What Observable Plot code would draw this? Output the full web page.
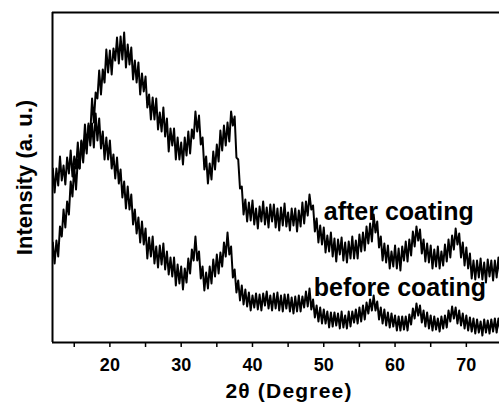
<!DOCTYPE html>
<html>
<head>
<meta charset="utf-8">
<script src="https://cdn.jsdelivr.net/npm/d3@7"></script>
<script src="https://cdn.jsdelivr.net/npm/@observablehq/plot@0.6"></script>
<style>
  html, body { margin: 0; padding: 0; background: #fff; }
  #chart svg { display: block; }
</style>
</head>
<body>
<div id="chart"></div>
<script>
// 2θ sampling grid (degrees): start and step of the scan
const thetaStart = 12;
const thetaStep = 0.25;

// Intensity (arbitrary units), "after coating"
const afterCoating = [
174,150,174,157,186,162,177,158,185,169,192,166,186,174,200,174,201,189,218,196,
217,209,244,220,250,244,272,248,273,260,293,270,292,268,294,282,305,279,306,283,
310,275,298,278,295,263,282,260,280,248,269,251,266,235,248,223,245,223,244,213,
230,211,235,206,224,191,214,197,214,183,205,183,200,178,205,187,211,189,213,204,
231,211,227,198,205,173,186,159,179,163,191,173,198,181,212,192,217,197,220,201,
231,217,226,185,183,154,156,128,143,121,140,122,142,118,134,114,136,121,141,118,
135,115,138,121,138,115,134,112,135,117,139,116,130,112,134,117,134,111,132,116,
140,119,141,127,148,133,137,111,124,100,117,98,115,90,107,91,110,86,104,81,
103,88,105,82,100,80,101,84,106,84,102,84,108,91,110,92,116,99,119,101,
128,110,121,95,106,82,99,80,97,74,91,76,97,74,94,72,96,82,101,81,
103,87,111,96,116,102,113,89,103,81,99,80,97,74,93,76,96,74,91,77,
98,81,103,85,107,93,114,98,109,85,100,77,95,74,89,64,82,63,82,65,
84,63,80,60,83,66,82,62,82,65,85,66
];

// Intensity (arbitrary units), "before coating"
const beforeCoating = [
100,79,102,86,116,106,133,115,141,128,161,146,176,153,183,174,202,180,205,189,
219,197,219,195,229,202,224,194,211,183,205,183,202,174,188,164,185,159,173,145,
161,134,156,133,148,118,133,109,125,100,121,98,114,84,105,86,106,79,96,75,
97,78,99,73,91,68,85,66,85,57,78,59,76,53,74,60,84,69,93,82,
106,82,91,64,76,52,70,54,76,59,83,66,88,69,90,76,100,86,110,88,
96,65,73,50,62,42,57,38,53,36,50,32,47,35,49,33,48,32,49,37,
51,34,47,32,49,34,50,32,47,31,48,34,48,31,45,29,46,31,47,31,
46,35,51,36,54,33,43,25,37,21,35,19,33,19,31,15,30,16,30,17,
29,14,31,15,27,14,31,16,31,20,33,19,35,21,37,23,40,29,43,32,
47,32,41,23,35,19,33,17,30,15,29,16,27,12,26,12,26,13,26,12,
28,18,34,24,39,27,37,20,32,16,30,14,27,12,26,13,24,11,26,14,
27,15,32,21,36,24,35,19,32,17,29,14,27,12,25,11,24,9,23,10,
21,7,23,10,22,9,23,11,24,10,24,12
];

const seriesNames = ["after coating", "before coating"];
const xTicks = [15, 20, 25, 30, 35, 40, 45, 50, 55, 60, 65, 70];
const xDomain = [11.95, 74.65];
const yDomain = [0, 330];
const xTitle = "2θ (Degree)";
const yTitle = "Intensity (a. u.)";

// annotation labels: position in data units
const labels = [
  {name: "after coating", x: 50.0, y: 123},
  {name: "before coating", x: 48.6, y: 47}
];

const rows = [];
afterCoating.forEach((v, i) => rows.push({series: seriesNames[0], theta: thetaStart + i * thetaStep, I: v}));
beforeCoating.forEach((v, i) => rows.push({series: seriesNames[1], theta: thetaStart + i * thetaStep, I: v}));

const font = "'Liberation Sans', Arial, Helvetica, sans-serif";

const chart = Plot.plot({
  width: 499,
  height: 404,
  marginLeft: 52,
  marginRight: 0,
  marginTop: 12,
  marginBottom: 62,
  style: {fontFamily: font, fontWeight: "bold", fontSize: "18px", color: "#000", background: "#fff", overflow: "visible"},
  x: {domain: xDomain, axis: null},
  y: {domain: yDomain, axis: null},
  marks: [
    Plot.line(rows, {x: "theta", y: "I", z: "series", stroke: "#000", strokeWidth: 2, clip: true}),
    Plot.ruleY([yDomain[0]], {stroke: "#000", strokeWidth: 2}),
    Plot.ruleY([yDomain[1]], {stroke: "#000", strokeWidth: 2}),
    Plot.ruleX([xDomain[0]], {stroke: "#000", strokeWidth: 2}),
    Plot.axisX({
      ticks: xTicks,
      tickSize: 5,
      tickPadding: 11,
      tickFormat: d => (d % 10 === 0 ? String(d) : ""),
      fontSize: 18,
      label: null,
      stroke: "#000",
      strokeWidth: 1.5
    }),
    Plot.text([xTitle], {frameAnchor: "bottom", lineAnchor: "top", dy: 41, dx: 13, fontSize: 21, fill: "#000"}),
    Plot.text([yTitle], {frameAnchor: "left", textAnchor: "middle", lineAnchor: "middle", rotate: -90, dx: -28, fontSize: 22, fill: "#000"}),
    Plot.text(labels, {x: "x", y: "y", text: "name", textAnchor: "start", lineAnchor: "bottom", fontSize: 25, fill: "#000"})
  ]
});

// widen the x title slightly to match the reference's letter spacing
d3.select(chart).selectAll("text")
  .filter(function () { return this.textContent === xTitle; })
  .attr("letter-spacing", "1.2px");

document.getElementById("chart").appendChild(chart);
</script>
</body>
</html>
